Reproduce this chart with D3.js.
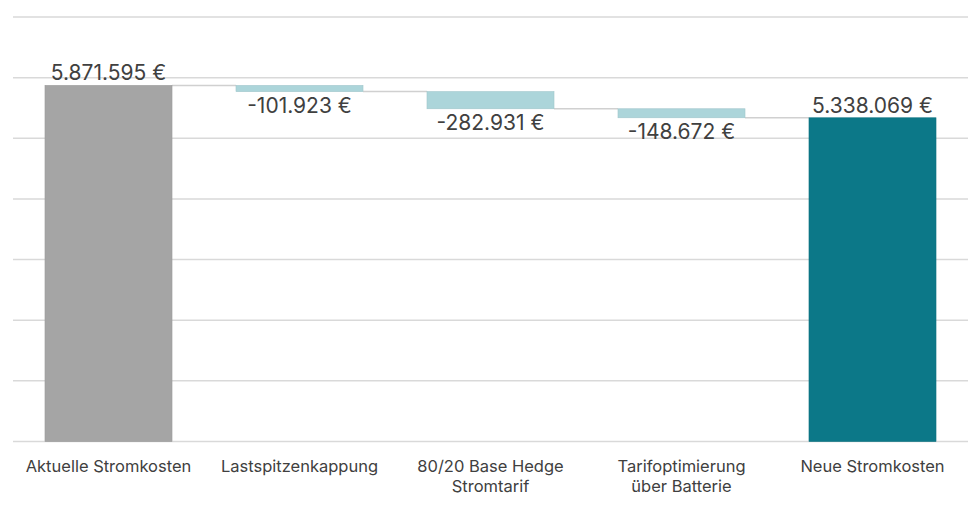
<html>
<head>
<script src="https://d3js.org/d3.v7.min.js"></script>
<style>
  body { margin: 0; background: #fff; }
  text { font-family: Inter, "Noto Sans", sans-serif; }
</style>
</head>
<body>
<script>
// waterfall data
var categories = ["Aktuelle Stromkosten", "Lastspitzenkappung", "80/20 Base Hedge\nStromtarif", "Tarifoptimierung\nüber Batterie", "Neue Stromkosten"];
var values = [5871595, -101923, -282931, -148672, 5338069];
var kinds = ["total", "delta", "delta", "delta", "total"];
var yTicks = [0, 1000000, 2000000, 3000000, 4000000, 5000000, 6000000, 7000000];

var width = 980, height = 508;
var svg = d3.select("body").append("svg").attr("width", width).attr("height", height);

var x = d3.scaleBand().domain(d3.range(categories.length)).range([13, 968])
  .paddingInner(0.335).paddingOuter(0.1675);
var y = d3.scaleLinear().domain([0, 7000000]).range([441.5, 17]);

// gridlines
svg.selectAll("line.grid").data(yTicks).enter().append("line")
  .attr("class", "grid")
  .attr("x1", 13).attr("x2", 968)
  .attr("y1", function(d) { return y(d); }).attr("y2", function(d) { return y(d); })
  .attr("stroke", "#d9d9d9").attr("stroke-width", 1.5);

// compute start/end for each step
var running = 0;
var steps = values.map(function(v, i) {
  var s;
  if (kinds[i] == "total") { s = { start: 0, end: v }; running = v; }
  else { s = { start: running, end: running + v }; running += v; }
  s.i = i; s.v = v; s.kind = kinds[i];
  return s;
});

// connectors
svg.selectAll("line.conn").data(steps.slice(0, -1)).enter().append("line")
  .attr("class", "conn")
  .attr("x1", function(d) { return x(d.i) + x.bandwidth(); })
  .attr("x2", function(d) { return x(d.i + 1); })
  .attr("y1", function(d) { return y(d.end); })
  .attr("y2", function(d) { return y(d.end); })
  .attr("stroke", "#d0d0d0").attr("stroke-width", 1.5);

var colors = ["#a5a5a5", "#acd5da", "#acd5da", "#acd5da", "#0c7888"];
svg.selectAll("rect.bar").data(steps).enter().append("rect")
  .attr("class", "bar")
  .attr("x", function(d) { return x(d.i); })
  .attr("width", x.bandwidth())
  .attr("y", function(d) { return y(Math.max(d.start, d.end)); })
  .attr("height", function(d) { return Math.abs(y(d.start) - y(d.end)); })
  .attr("fill", function(d) { return colors[d.i]; })
  .attr("stroke", function(d) { return d3.color(colors[d.i]).darker(0.2); })
  .attr("stroke-width", 0.6);

var fmt = d3.formatLocale({ decimal: ",", thousands: ".", grouping: [3], currency: ["", " €"] }).format(",d");

svg.selectAll("text.val").data(steps).enter().append("text")
  .attr("class", "val")
  .attr("x", function(d) { return x(d.i) + x.bandwidth() / 2; })
  .attr("y", function(d) {
    return d.kind == "total" ? y(d.end) - 5 : y(Math.min(d.start, d.end)) + 21;
  })
  .attr("text-anchor", "middle")
  .attr("font-size", 21)
  .attr("fill", "#404040")
  .text(function(d) { return (d.v < 0 ? "-" : "") + fmt(Math.abs(d.v)) + " €"; });

// category labels
var lab = svg.selectAll("text.cat").data(categories).enter().append("text")
  .attr("class", "cat")
  .attr("x", function(d, i) { return x(i) + x.bandwidth() / 2; })
  .attr("y", 472)
  .attr("text-anchor", "middle")
  .attr("font-size", 16.5)
  .attr("fill", "#404040");
lab.selectAll("tspan").data(function(d) { return d.split("\n"); }).enter().append("tspan")
  .attr("x", function() { return d3.select(this.parentNode).attr("x"); })
  .attr("dy", function(d, j) { return j == 0 ? 0 : 20; })
  .text(function(d) { return d; });
</script>
</body>
</html>
